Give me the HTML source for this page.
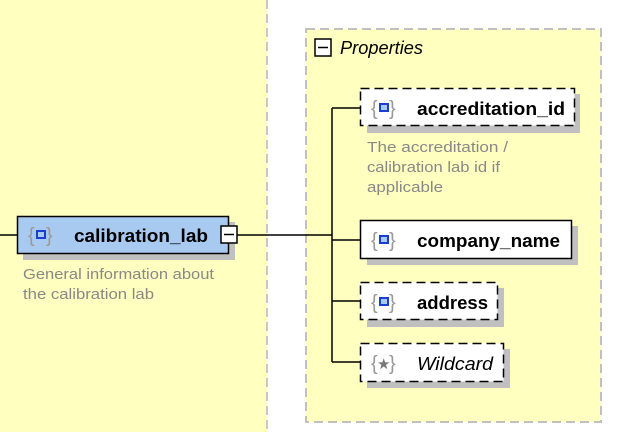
<!DOCTYPE html>
<html><head><meta charset="utf-8"><style>
body{margin:0;width:625px;height:432px;overflow:hidden;background:#fff;font-family:"Liberation Sans",sans-serif}
</style></head><body>
<svg width="625" height="432" xmlns="http://www.w3.org/2000/svg" font-family="Liberation Sans, sans-serif">
<rect x="0" y="0" width="267" height="432" fill="#ffffc0"/>
<line x1="267" y1="0" x2="267" y2="432" stroke="#c8c8c8" stroke-width="2" stroke-dasharray="9,5"/>
<rect x="306" y="29" width="295" height="393" fill="#ffffc0" stroke="#c0c0c0" stroke-width="2" stroke-dasharray="9,5"/>
<rect x="315" y="39" width="16" height="17" fill="#fff" stroke="#000" stroke-width="1.5"/>
<line x1="318" y1="47.5" x2="328" y2="47.5" stroke="#000" stroke-width="1.5"/>
<text x="340" y="54" font-size="18" font-style="italic" fill="#000" textLength="83" lengthAdjust="spacingAndGlyphs">Properties</text>
<line x1="0" y1="235" x2="17" y2="235" stroke="#000" stroke-width="1.5"/>
<line x1="237" y1="235" x2="332" y2="235" stroke="#000" stroke-width="1.5"/>
<line x1="332" y1="108" x2="332" y2="362" stroke="#000" stroke-width="1.5"/>
<line x1="332" y1="108" x2="360" y2="108" stroke="#000" stroke-width="1.5"/>
<line x1="332" y1="240" x2="360" y2="240" stroke="#000" stroke-width="1.5"/>
<line x1="332" y1="301" x2="360" y2="301" stroke="#000" stroke-width="1.5"/>
<line x1="332" y1="362" x2="360" y2="362" stroke="#000" stroke-width="1.5"/>
<!-- calibration_lab -->
<rect x="23" y="222" width="212" height="38" fill="#c0c0c0"/>
<rect x="17.5" y="216.5" width="211" height="37" fill="#a9caf0" stroke="#000" stroke-width="1.5"/>
<text x="28" y="242" font-size="20" fill="#999">{</text><text x="46" y="242" font-size="20" fill="#999">}</text>
<rect x="37" y="231" width="8" height="7" fill="#a9caf0" stroke="#1a3fd0" stroke-width="2"/>
<text x="74" y="242" font-size="18" font-weight="bold" fill="#000" textLength="134" lengthAdjust="spacingAndGlyphs">calibration_lab</text>
<rect x="221" y="226" width="16" height="17" fill="#fff" stroke="#000" stroke-width="1.5"/>
<line x1="224" y1="234.5" x2="234" y2="234.5" stroke="#000" stroke-width="1.5"/>
<text x="23" y="279" font-size="15" fill="#888" textLength="191" lengthAdjust="spacingAndGlyphs">General information about</text>
<text x="23" y="299" font-size="15" fill="#888" textLength="131" lengthAdjust="spacingAndGlyphs">the calibration lab</text>
<!-- accreditation_id -->
<rect x="367" y="94" width="213" height="39" fill="#c0c0c0"/>
<rect x="360.5" y="88.5" width="214" height="37" fill="#fff" stroke="#000" stroke-width="1.5" stroke-dasharray="9,5"/>
<text x="371" y="115" font-size="20" fill="#999">{</text><text x="389" y="115" font-size="20" fill="#999">}</text>
<rect x="380" y="104" width="8" height="7" fill="#a9caf0" stroke="#1a3fd0" stroke-width="2"/>
<text x="417" y="115" font-size="18" font-weight="bold" fill="#000" textLength="148" lengthAdjust="spacingAndGlyphs">accreditation_id</text>
<text x="367" y="152" font-size="15" fill="#888" textLength="141" lengthAdjust="spacingAndGlyphs">The accreditation /</text>
<text x="367" y="172" font-size="15" fill="#888" textLength="133" lengthAdjust="spacingAndGlyphs">calibration lab id if</text>
<text x="367" y="192" font-size="15" fill="#888" textLength="76" lengthAdjust="spacingAndGlyphs">applicable</text>
<!-- company_name -->
<rect x="367" y="226" width="211" height="39" fill="#c0c0c0"/>
<rect x="360.5" y="220.5" width="211" height="38" fill="#fff" stroke="#000" stroke-width="1.5"/>
<text x="371" y="247" font-size="20" fill="#999">{</text><text x="389" y="247" font-size="20" fill="#999">}</text>
<rect x="380" y="236" width="8" height="7" fill="#a9caf0" stroke="#1a3fd0" stroke-width="2"/>
<text x="417" y="247" font-size="18" font-weight="bold" fill="#000" textLength="143" lengthAdjust="spacingAndGlyphs">company_name</text>
<!-- address -->
<rect x="367" y="288" width="137" height="39" fill="#c0c0c0"/>
<rect x="360.5" y="282.5" width="137" height="37" fill="#fff" stroke="#000" stroke-width="1.5" stroke-dasharray="9,5"/>
<text x="371" y="309" font-size="20" fill="#999">{</text><text x="389" y="309" font-size="20" fill="#999">}</text>
<rect x="380" y="298" width="8" height="7" fill="#a9caf0" stroke="#1a3fd0" stroke-width="2"/>
<text x="417" y="309" font-size="18" font-weight="bold" fill="#000" textLength="71" lengthAdjust="spacingAndGlyphs">address</text>
<!-- Wildcard -->
<rect x="367" y="349" width="143" height="39" fill="#c0c0c0"/>
<rect x="360.5" y="343.5" width="143" height="38" fill="#fff" stroke="#000" stroke-width="1.5" stroke-dasharray="9,5"/>
<text x="371" y="370" font-size="20" fill="#999">{</text><text x="389" y="370" font-size="20" fill="#999">}</text>
<text x="377" y="369" font-size="15" fill="#777">★</text>
<text x="417" y="370" font-size="18" font-style="italic" fill="#000" textLength="76" lengthAdjust="spacingAndGlyphs">Wildcard</text>
</svg>
</body></html>
